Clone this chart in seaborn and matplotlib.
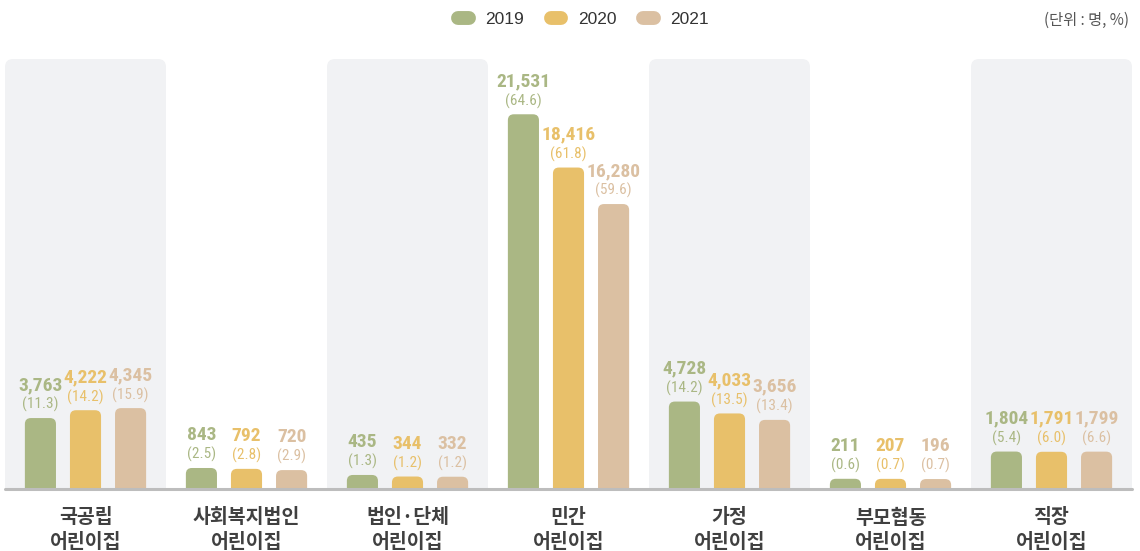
import numpy as np
import pandas as pd
import matplotlib
matplotlib.use("Agg")
import matplotlib.pyplot as plt
import seaborn as sns
from matplotlib.patches import FancyBboxPatch
from matplotlib.lines import Line2D
from matplotlib import font_manager as fm

# ---------------- data ----------------
categories = ['국공립\n어린이집', '사회복지법인\n어린이집', '법인·단체\n어린이집', '민간\n어린이집',
              '가정\n어린이집', '부모협동\n어린이집', '직장\n어린이집']
years = ['2019', '2020', '2021']
v2019 = [3763, 843, 435, 21531, 4728, 211, 1804]
v2020 = [4222, 792, 344, 18416, 4033, 207, 1791]
v2021 = [4345, 720, 332, 16280, 3656, 196, 1799]
p2019 = [11.3, 2.5, 1.3, 64.6, 14.2, 0.6, 5.4]
p2020 = [14.2, 2.8, 1.2, 61.8, 13.5, 0.7, 6.0]
p2021 = [15.9, 2.9, 1.2, 59.6, 13.4, 0.7, 6.6]
unit_text = '(단위 : 명, %)'

colors = ['#aab784', '#e8c06a', '#dbc0a2']

values = [v2019, v2020, v2021]
pcts = [p2019, p2020, p2021]

df = pd.DataFrame({
    'category': categories * 3,
    'year': np.repeat(years, len(categories)),
    'value': v2019 + v2020 + v2021,
    'pct': p2019 + p2020 + p2021,
})

# ---------------- fonts ----------------
avail = {f.name for f in fm.fontManager.ttflist}
num_family = [f for f in ['Roboto Condensed', 'Liberation Sans Narrow', 'Roboto'] if f in avail]
narrow = bool(num_family) and num_family[0] in ('Liberation Sans Narrow', 'Roboto Condensed')
val_size = 14 if narrow else 12
pct_size = 11 if narrow else 9.5

sns.set_theme(style='white')
plt.rcParams['font.family'] = ['Noto Sans CJK KR', 'DejaVu Sans']

W, H = 1140, 551
fig = plt.figure(figsize=(W / 100, H / 100), dpi=100)
ax_left, ax_right = 5 / W, 1132 / W
ax_bottom, ax_top = (H - 489) / H, (H - 59) / H
ax = fig.add_axes([ax_left, ax_bottom, ax_right - ax_left, ax_top - ax_bottom])

sns.barplot(data=df, x='category', y='value', hue='year', palette=colors,
            width=0.84, gap=0.31, saturation=1, legend=False, ax=ax, zorder=3)

ymax = 25150
ax.set_xlim(-0.5, len(categories) - 0.5)
ax.set_ylim(0, ymax)

# pixel conversions
ax_w_px = (ax_right - ax_left) * W
ax_h_px = (ax_top - ax_bottom) * H
x_per_px = len(categories) / ax_w_px
y_per_px = ymax / ax_h_px
aspect = y_per_px / x_per_px

# background panels for alternate groups
for i in range(0, len(categories), 2):
    r = 8 * x_per_px
    panel = FancyBboxPatch((i - 0.5, -ymax * 0.2), 1.0, ymax * 1.2,
                           boxstyle=f'round,pad=0,rounding_size={r}',
                           mutation_aspect=aspect, fc='#f1f2f4', ec='none',
                           zorder=0, transform=ax.transData)
    ax.add_patch(panel)

# replace bars with rounded ones
bars = [p for p in ax.patches if not isinstance(p, FancyBboxPatch)]
pad_px = 6.6
rb = 6 * x_per_px
for b in bars:
    x0, w, h = b.get_x(), b.get_width(), b.get_height()
    fc = b.get_facecolor()
    b.remove()
    rp = FancyBboxPatch((x0, -rb * aspect), w, h + rb * aspect + pad_px * y_per_px,
                        boxstyle=f'round,pad=0,rounding_size={rb}',
                        mutation_aspect=aspect, fc=fc, ec='none', zorder=3)
    ax.add_patch(rp)

# labels
n = len(categories)
slot = 0.84 / 3
fam = num_family or ['DejaVu Sans']
for j, (vals, ps, col) in enumerate(zip(values, pcts, colors)):
    for i in range(n):
        cx = i + (j - 1) * slot
        top = vals[i]
        ax.annotate(f'({ps[i]:.1f})', xy=(cx, top), xytext=(0, (pad_px + 9) * 0.72),
                    textcoords='offset points', ha='center', va='baseline',
                    fontsize=pct_size, color=col, family=fam, zorder=5)
        ax.annotate(f'{vals[i]:,}', xy=(cx, top), xytext=(0, (pad_px + 28) * 0.72),
                    textcoords='offset points', ha='center', va='baseline',
                    fontsize=val_size, fontweight='bold', color=col,
                    family=fam, zorder=5)

# baseline
ax.axhline(0, color='#bdbdbd', lw=2.2, zorder=6, clip_on=False)

for s in ax.spines.values():
    s.set_visible(False)
ax.set_yticks([])
ax.set_xlabel('')
ax.set_ylabel('')
ax.tick_params(axis='x', length=0, pad=14)
ax.set_xticks(range(n))
ax.set_xticklabels(categories, fontsize=14, fontweight='bold', color='#404040',
                   linespacing=1.35)

# legend
handles = [Line2D([0], [0], color=c, lw=10, solid_capstyle='round') for c in colors]
leg = fig.legend(handles, years, loc='center', bbox_to_anchor=(583.5 / W, 1 - 19 / H),
                 ncol=3, frameon=False, handlelength=0.6,
                 handletextpad=0.95, columnspacing=1.55,
                 prop={'family': ['Liberation Sans', 'DejaVu Sans'], 'size': 12.5})
for t in leg.get_texts():
    t.set_color('#333333')

fig.text(1129 / W, 1 - 20 / H, unit_text, ha='right', va='center', fontsize=11,
         color='#555555', family=['Noto Sans CJK KR', 'DejaVu Sans'])

fig.savefig('out.png', dpi=100)
